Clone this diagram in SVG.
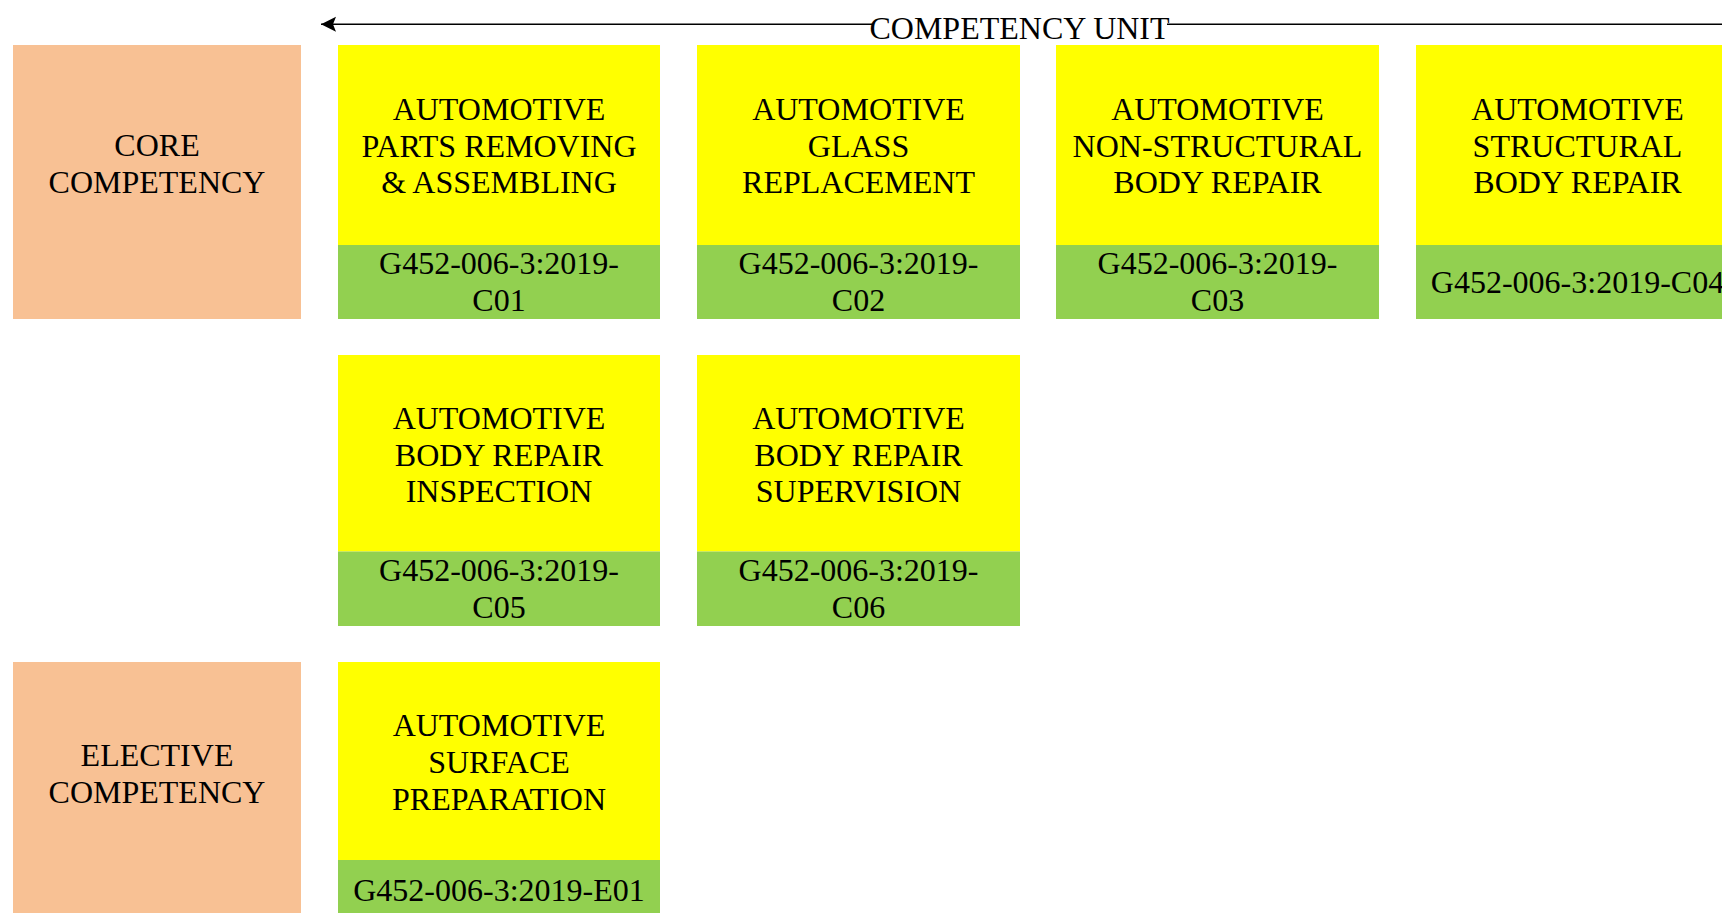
<svg xmlns="http://www.w3.org/2000/svg" width="1722" height="913" viewBox="0 0 1722 913">
<style>
text{font-family:"Liberation Serif","Times New Roman",serif;font-size:32px;fill:#000;text-anchor:middle}
.cat{fill:#F8C194}
.unit{fill:#FFFF00}
.code{fill:#92D050}
.conn{stroke:#000;stroke-width:1.6;fill:none}
</style>
<defs>
<marker id="ah" markerUnits="userSpaceOnUse" markerWidth="16" markerHeight="16" refX="15" refY="7.5" orient="auto" viewBox="0 0 16 15">
<path d="M0,0 L15,7.5 L0,15 L3,7.5 z" fill="#000"/>
</marker>
</defs>
<rect width="1722" height="913" fill="#fff"/>

<g id="connectors">
<path class="conn" d="M1722,24.3 L321,24.3" marker-end="url(#ah)"/>
<rect x="872" y="12" width="295" height="30" fill="#fff"/>
<text x="1019.5" y="38.5">COMPETENCY UNIT</text>
</g>

<g id="core">
<rect class="cat" x="13" y="45" width="288" height="274"/>
<text x="157" y="156">CORE</text>
<text x="157" y="192.5">COMPETENCY</text>
</g>

<g id="elective">
<rect class="cat" x="13" y="662" width="288" height="251"/>
<text x="157" y="766">ELECTIVE</text>
<text x="157" y="802.5">COMPETENCY</text>
</g>

<g id="c01">
<rect class="unit" x="338" y="45" width="322" height="200"/>
<rect class="code" x="338" y="245" width="322" height="74"/>
<text x="499" y="120">AUTOMOTIVE</text>
<text x="499" y="156.5">PARTS REMOVING</text>
<text x="499" y="193">&amp; ASSEMBLING</text>
<text x="499" y="274.3">G452-006-3:2019-</text>
<text x="499" y="311">C01</text>
</g>

<g id="c02">
<rect class="unit" x="697" y="45" width="323" height="200"/>
<rect class="code" x="697" y="245" width="323" height="74"/>
<text x="858.5" y="120">AUTOMOTIVE</text>
<text x="858.5" y="156.5">GLASS</text>
<text x="858.5" y="193">REPLACEMENT</text>
<text x="858.5" y="274.3">G452-006-3:2019-</text>
<text x="858.5" y="311">C02</text>
</g>

<g id="c03">
<rect class="unit" x="1056" y="45" width="323" height="200"/>
<rect class="code" x="1056" y="245" width="323" height="74"/>
<text x="1217.5" y="120">AUTOMOTIVE</text>
<text x="1217.5" y="156.5">NON-STRUCTURAL</text>
<text x="1217.5" y="193">BODY REPAIR</text>
<text x="1217.5" y="274.3">G452-006-3:2019-</text>
<text x="1217.5" y="311">C03</text>
</g>

<g id="c04">
<rect class="unit" x="1416" y="45" width="323" height="200"/>
<rect class="code" x="1416" y="245" width="323" height="74"/>
<text x="1577.5" y="120">AUTOMOTIVE</text>
<text x="1577.5" y="156.5">STRUCTURAL</text>
<text x="1577.5" y="193">BODY REPAIR</text>
<text x="1577.5" y="293">G452-006-3:2019-C04</text>
</g>

<g id="c05">
<rect class="unit" x="338" y="355" width="322" height="196.5"/>
<rect class="code" x="338" y="551.5" width="322" height="74.5"/>
<text x="499" y="429.3">AUTOMOTIVE</text>
<text x="499" y="465.5">BODY REPAIR</text>
<text x="499" y="502">INSPECTION</text>
<text x="499" y="581.3">G452-006-3:2019-</text>
<text x="499" y="618">C05</text>
</g>

<g id="c06">
<rect class="unit" x="697" y="355" width="323" height="196.5"/>
<rect class="code" x="697" y="551.5" width="323" height="74.5"/>
<text x="858.5" y="429.3">AUTOMOTIVE</text>
<text x="858.5" y="465.5">BODY REPAIR</text>
<text x="858.5" y="502">SUPERVISION</text>
<text x="858.5" y="581.3">G452-006-3:2019-</text>
<text x="858.5" y="618">C06</text>
</g>

<g id="e01">
<rect class="unit" x="338" y="662" width="322" height="198"/>
<rect class="code" x="338" y="860" width="322" height="53"/>
<text x="499" y="736">AUTOMOTIVE</text>
<text x="499" y="772.7">SURFACE</text>
<text x="499" y="810">PREPARATION</text>
<text x="499" y="900.7">G452-006-3:2019-E01</text>
</g>
</svg>
